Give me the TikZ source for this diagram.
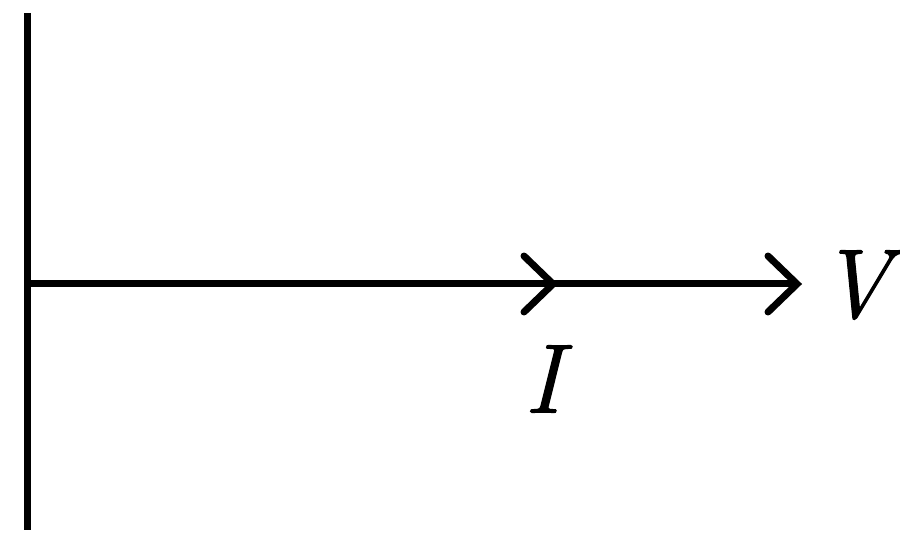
\documentclass[tikz,border=0pt]{standalone}
\usepackage{fontspec}
\newfontfamily\labfont{Latin Modern Roman}[UprightFont=*, ItalicFeatures={FakeBold=1.2}]
\begin{document}
\begin{tikzpicture}[x=1pt,y=-1pt,
  axis/.style={line width=7pt,black},
  chev/.style={line width=7pt,black,line cap=round,line join=miter},
  lab/.style={inner sep=0pt,font=\fontsize{98}{98}\labfont\itshape}]
\useasboundingbox (0,0) rectangle (900,540);
\coordinate (top) at (27,13);
\coordinate (bot) at (27,530);
\coordinate (o) at (27,284);
\coordinate (m) at (553,284);
\coordinate (v) at (797,284);
\draw[axis] (top) -- (bot);
\draw[axis] (o) -- (v);
\draw[chev] ([xshift=-29pt,yshift=-28pt]m) -- (m) -- ([xshift=-29pt,yshift=28pt]m);
\draw[chev] ([xshift=-29pt,yshift=-28pt]v) -- (v) -- ([xshift=-29pt,yshift=28pt]v);
\node[lab] (V) at (855,285) {V};
\node[lab] (I) at (543,379) {I};
\end{tikzpicture}
\end{document}
